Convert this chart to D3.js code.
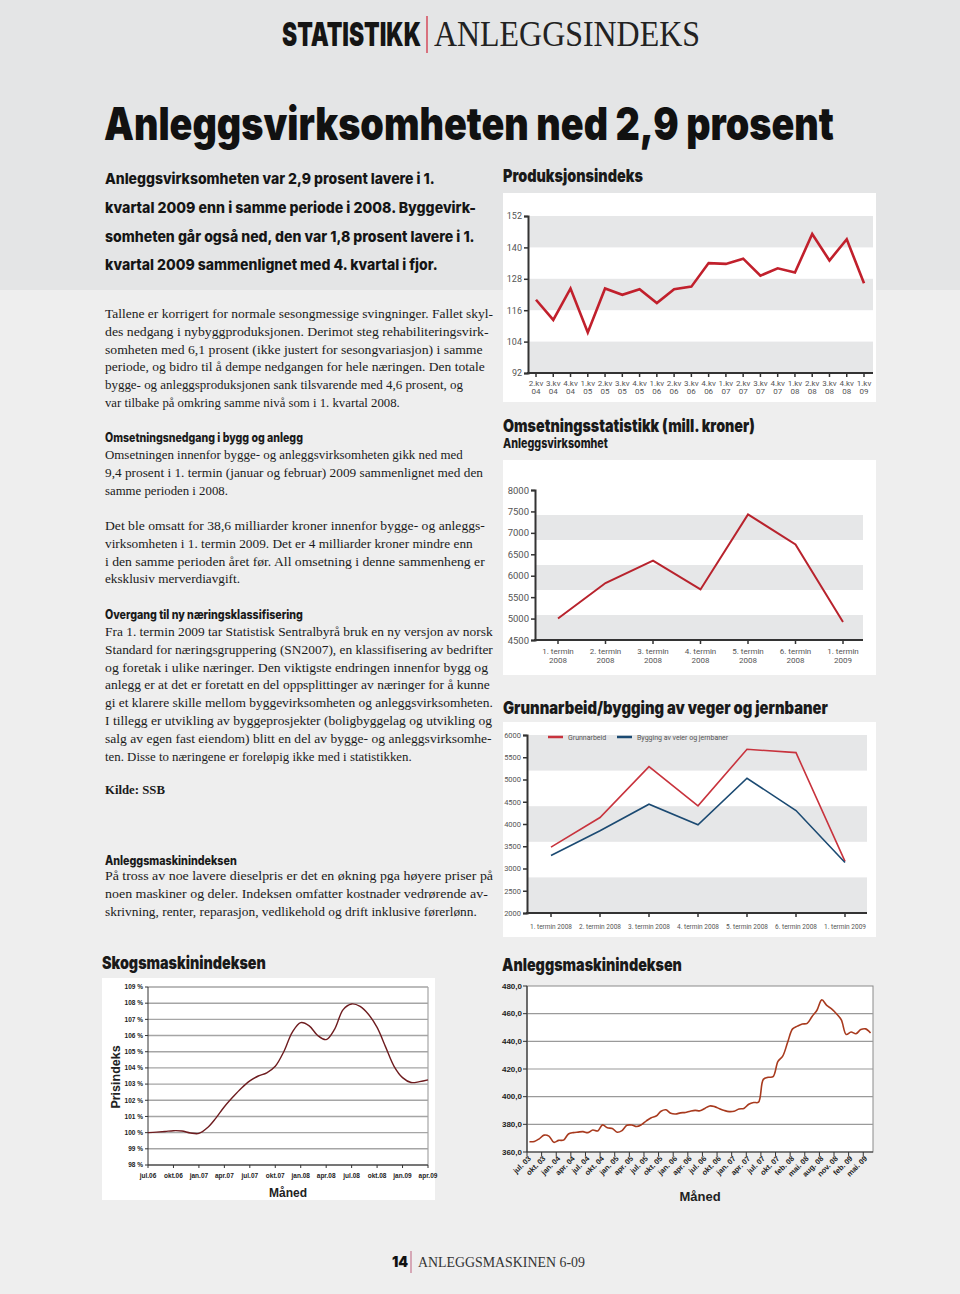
<!DOCTYPE html>
<html><head><meta charset="utf-8">
<script src="https://cdn.jsdelivr.net/npm/d3@7"></script>
<style>body{margin:0;background:#eeeeee} svg{display:block}</style>
</head><body><svg id="page" width="960" height="1294"></svg>
<script>
// ---------------- DATA ----------------
const prodQuarters = ["2.kv 04","3.kv 04","4.kv 04","1.kv 05","2.kv 05","3.kv 05","4.kv 05","1.kv 06","2.kv 06","3.kv 06","4.kv 06","1.kv 07","2.kv 07","3.kv 07","4.kv 07","1.kv 08","2.kv 08","3.kv 08","4.kv 08","1.kv 09"];
const prodValues = [120,112.3,124.3,107.5,124.3,121.9,124,118.7,124,125,134,133.7,135.7,129.2,132,130.4,145.1,135,143.1,126.3];
const prodTicks = [92,104,116,128,140,152];

const omsTerms = ["1. termin 2008","2. termin 2008","3. termin 2008","4. termin 2008","5. termin 2008","6. termin 2008","1. termin 2009"];
const omsValues = [5000,5830,6350,5680,7430,6730,4920];
const omsTicks = [4500,5000,5500,6000,6500,7000,7500,8000];

const grunnTerms = ["1. termin 2008","2. termin 2008","3. termin 2008","4. termin 2008","5. termin 2008","6. termin 2008","1. termin 2009"];
const grunnarbeid = [3480,4146,5290,4408,5679,5604,3159];
const veierJernbaner = [3293,3850,4445,3981,5028,4303,3136];
const grunnTicks = [2000,2500,3000,3500,4000,4500,5000,5500,6000];

const skogTickLabels = ["jul.06","okt.06","jan.07","apr.07","jul.07","okt.07","jan.08","apr.08","jul.08","okt.08","jan.09","apr.09"];
const skogValues = [100.0,100.03,100.07,100.12,100.1,99.98,99.95,100.3,100.9,101.6,102.2,102.75,103.2,103.5,103.7,104.1,105.0,106.2,106.8,106.6,106.0,105.75,106.4,107.6,107.95,107.8,107.3,106.5,105.3,104.1,103.4,103.1,103.15,103.26];
const skogTicks = [98,99,100,101,102,103,104,105,106,107,108,109];

const anleggTickLabels = ["jul. 03","okt. 03","jan. 04","apr. 04","jul. 04","okt. 04","jan. 05","apr. 05","jul. 05","okt. 05","jan. 06","apr. 06","jul. 06","okt. 06","jan. 07","apr. 07","jul. 07","okt. 07","feb. 08","mai. 08","aug. 08","nov. 08","feb. 09","mai. 09"];
const anleggValues = [367.4,367.6,369.5,372.2,371.5,367.0,368.4,368.6,373.0,374.0,374.4,374.7,374.0,375.9,375.2,379.6,377.5,377.0,374.3,375.5,379.3,379.5,378.4,379.8,382.5,384.8,386.0,389.5,390.5,388.0,387.5,388.3,388.6,389.5,390.1,389.8,391.5,393.3,392.8,391.3,390.0,389.2,389.5,391.1,391.5,394.5,395.8,396.0,412.5,414.0,414.5,425.5,429.5,439.5,449.0,451.0,452.5,453.0,458.0,462.5,470.0,466.0,463.5,460.0,455.5,445.0,446.8,445.5,448.5,449.0,446.0];
const anleggTicks = [360,380,400,420,440,460,480];

// ---------------- TEXT ----------------
const leadLines = [
 ["Anleggsvirksomheten var 2,9 prosent lavere i 1.",330],
 ["kvartal 2009 enn i samme periode i 2008. Byggevirk-",371],
 ["somheten går også ned, den var 1,8 prosent lavere i 1.",370],
 ["kvartal 2009 sammenlignet med 4. kvartal i fjor.",333]];
const p1 = [
 ["Tallene er korrigert for normale sesongmessige svingninger. Fallet skyl-",388],
 ["des nedgang i nybyggproduksjonen. Derimot steg rehabiliteringsvirk-",384],
 ["somheten med 6,1 prosent (ikke justert for sesongvariasjon) i samme",378],
 ["periode, og bidro til å dempe nedgangen for hele næringen. Den totale",380],
 ["bygge- og anleggsproduksjonen sank tilsvarende med 4,6 prosent, og",358],
 ["var tilbake på omkring samme nivå som i 1. kvartal 2008.",295]];
const p2 = [
 ["Omsetningen innenfor bygge- og anleggsvirksomheten gikk ned med",358],
 ["9,4 prosent i 1. termin (januar og februar) 2009 sammenlignet med den",378],
 ["samme perioden i 2008.",123]];
const p3 = [
 ["Det ble omsatt for 38,6 milliarder kroner innenfor bygge- og anleggs-",380],
 ["virksomheten i 1. termin 2009. Det er 4 milliarder kroner mindre enn",368],
 ["i den samme perioden året før. All omsetning i denne sammenheng er",380],
 ["eksklusiv merverdiavgift.",135]];
const p4 = [
 ["Fra 1. termin 2009 tar Statistisk Sentralbyrå bruk en ny versjon av norsk",388],
 ["Standard for næringsgruppering (SN2007), en klassifisering av bedrifter",388],
 ["og foretak i ulike næringer. Den viktigste endringen innenfor bygg og",383],
 ["anlegg er at det er foretatt en del oppsplittinger av næringer for å kunne",385],
 ["gi et klarere skille mellom byggevirksomheten og anleggsvirksomheten.",388],
 ["I tillegg er utvikling av byggeprosjekter (boligbyggelag og utvikling og",387],
 ["salg av egen fast eiendom) blitt en del av bygge- og anleggsvirksomhe-",387],
 ["ten. Disse to næringene er foreløpig ikke med i statistikken.",307]];
const p5 = [
 ["På tross av noe lavere dieselpris er det en økning pga høyere priser på",388],
 ["noen maskiner og deler. Indeksen omfatter kostnader vedrørende av-",383],
 ["skrivning, renter, reparasjon, vedlikehold og drift inklusive førerlønn.",372]];

// ---------------- DRAW ----------------
const SERIF = "'Liberation Serif','Times New Roman',serif";
const HEAVY = "Inter,Roboto,'DejaVu Sans',sans-serif";
const SANS = "Roboto,'Open Sans','DejaVu Sans',sans-serif";
const ARIAL = "'Liberation Sans',Arial,sans-serif";
const svg = d3.select("#page");
svg.append("rect").attr("width",960).attr("height",1294).attr("fill","#eeeeee");
svg.append("rect").attr("width",960).attr("height",290).attr("fill","#e4e5e6");

// text helper: if width given, the glyphs are scaled horizontally to fit it
function txt(g, x, y, s, o={}) {
  const t = g.append("text").attr("x",x).attr("y",y).text(s)
    .attr("font-family", o.family||SERIF).attr("font-size", o.size||12.5)
    .attr("font-weight", o.weight||"normal").attr("fill", o.fill||"#1a1a1a");
  if (o.anchor) t.attr("text-anchor", o.anchor);
  if (o.width) {
    const w0 = t.node().getComputedTextLength();
    if (w0 > 0) {
      const sx = o.width / w0;
      t.attr("transform", `translate(${x},${y}) scale(${sx},1) translate(${-x},${-y})`);
    }
  }
  return t;
}
function para(lines, y0, dy) {
  lines.forEach((l,i)=> txt(svg,105,y0+i*dy,l[0],{size:12.6,width:l[1]}));
}

// header
txt(svg,282,45.7,"STATISTIKK",{family:HEAVY,weight:900,size:33,width:139,fill:"#151515"});
svg.append("line").attr("x1",427).attr("x2",427).attr("y1",16).attr("y2",53).attr("stroke","#d0243a").attr("stroke-width",1.2);
txt(svg,434,45.7,"ANLEGGSINDEKS",{size:36,width:266,fill:"#222"});
txt(svg,104,140,"Anleggsvirksomheten ned 2,9 prosent",{family:HEAVY,weight:900,size:45,width:730,fill:"#111"});

leadLines.forEach((l,i)=> txt(svg,105,[184,213,242,270][i],l[0],{family:HEAVY,weight:800,size:15,width:l[1],fill:"#151515"}));
para(p1,318,17.8);
txt(svg,105,441.7,"Omsetningsnedgang i bygg og anlegg",{family:HEAVY,weight:800,size:12.5,width:198});
para(p2,459,18);
para(p3,530,17.8);
txt(svg,105,619,"Overgang til ny næringsklassifisering",{family:HEAVY,weight:800,size:12.5,width:198});
para(p4,636,17.8);
txt(svg,105,794,"Kilde: SSB",{weight:"bold",size:13.5,width:60});
txt(svg,105,865,"Anleggsmaskinindeksen",{family:HEAVY,weight:800,size:12.5,width:132});
para(p5,880,18);

// chart titles
txt(svg,503,181.7,"Produksjonsindeks",{family:HEAVY,weight:900,size:18,width:140});
txt(svg,503,431.7,"Omsetningsstatistikk (mill. kroner)",{family:HEAVY,weight:900,size:18,width:252});
txt(svg,503,448.3,"Anleggsvirksomhet",{family:HEAVY,weight:800,size:13.5,width:105});
txt(svg,503,714,"Grunnarbeid/bygging av veger og jernbaner",{family:HEAVY,weight:900,size:17,width:325});
txt(svg,102,969.3,"Skogsmaskinindeksen",{family:HEAVY,weight:900,size:17.5,width:164});
txt(svg,502,970.7,"Anleggsmaskinindeksen",{family:HEAVY,weight:900,size:18,width:180});

// footer
txt(svg,392,1267,"14",{family:HEAVY,weight:900,size:14,fill:"#111"});
svg.append("line").attr("x1",411).attr("x2",411).attr("y1",1251).attr("y2",1273).attr("stroke","#c77a92").attr("stroke-width",1.2);
txt(svg,418,1267,"ANLEGGSMASKINEN 6-09",{size:14,width:167,fill:"#333"});

// ---------- generic banded line chart ----------
function bandChart(cfg){
  const g = svg.append("g");
  g.append("rect").attr("x",cfg.panel[0]).attr("y",cfg.panel[1]).attr("width",cfg.panel[2]).attr("height",cfg.panel[3]).attr("fill","#fff");
  const y = d3.scaleLinear().domain(cfg.ydom).range(cfg.yr);
  const x = d3.scalePoint().domain(cfg.cats).range(cfg.xr);
  cfg.bands.forEach(b=>{
    g.append("rect").attr("x",cfg.ax).attr("width",cfg.bandRight-cfg.ax)
     .attr("y",y(b[1])).attr("height",y(b[0])-y(b[1])).attr("fill","#e6e7e8");
  });
  const ya = d3.axisLeft(y).tickValues(cfg.yticks).tickFormat(d3.format("d")).tickSize(4).tickPadding(cfg.ypad||2);
  const yg = g.append("g").attr("transform",`translate(${cfg.ax},0)`).call(ya);
  yg.select(".domain").attr("stroke","#333").attr("stroke-width",2);
  yg.selectAll(".tick line").attr("stroke","#333").attr("stroke-width",1.5);
  yg.selectAll("text").attr("font-family",SANS).attr("font-size",cfg.yfs).attr("fill","#555");
  g.append("line").attr("x1",cfg.ax-1).attr("x2",cfg.bandRight).attr("y1",cfg.yr[0]).attr("y2",cfg.yr[0]).attr("stroke","#333").attr("stroke-width",2);
  cfg.cats.forEach(c=>{
    g.append("line").attr("x1",x(c)).attr("x2",x(c)).attr("y1",cfg.yr[0]).attr("y2",cfg.yr[0]+4).attr("stroke","#333").attr("stroke-width",1.5);
    const lines = cfg.splitLabel(c);
    lines.forEach((s,i)=> {
      const o = {family:SANS,size:cfg.xfs,fill:"#555",anchor:"middle"};
      if (cfg.labelW) o.width = cfg.labelW;
      txt(g,x(c),cfg.labelY+i*cfg.labelDy,s,o);
    });
  });
  cfg.series.forEach(s=>{
    g.append("path").datum(s.values).attr("fill","none").attr("stroke",s.color).attr("stroke-width",s.width)
     .attr("stroke-linejoin","miter")
     .attr("d",d3.line().x((d,i)=>x(cfg.cats[i])).y(d=>y(d)));
  });
  return {g,x,y};
}

// Produksjonsindeks
bandChart({panel:[503,193,373,209], ydom:[92,152], yr:[373,216], cats:prodQuarters, xr:[536,864], ax:528, bandRight:873,
  bands:[[140,152],[116,128],[92,104]], yticks:prodTicks, yfs:9, xfs:8,
  splitLabel:c=>c.split(" "), labelY:385.5, labelDy:8,
  series:[{values:prodValues,color:"#c1202c",width:2.6}]});

// Omsetning
bandChart({panel:[503,460,373,215], ydom:[4500,8000], yr:[640,490], cats:omsTerms, xr:[558,843], ax:535, bandRight:863,
  bands:[[4500,4500+3500/6],[4500+2*3500/6,4500+3*3500/6],[4500+4*3500/6,4500+5*3500/6]], yticks:omsTicks, yfs:9.5, xfs:8,
  splitLabel:c=>{const p=c.split(" "); return [p[0]+" "+p[1], p[2]];}, labelY:654, labelDy:9,
  series:[{values:omsValues,color:"#b8232d",width:2}]});

// Grunnarbeid
const gr = bandChart({panel:[503,722,373,215], ydom:[2000,6000], yr:[913,735], cats:grunnTerms, xr:[551,845], ax:527, bandRight:867,
  bands:[[2000,2800],[3600,4400],[5200,6000]], yticks:grunnTicks, yfs:7.5, xfs:7.5, labelW:42,
  splitLabel:c=>[c], labelY:929.5, labelDy:0,
  series:[{values:grunnarbeid,color:"#c8333d",width:1.6},{values:veierJernbaner,color:"#1b4a72",width:1.6}]});
gr.g.append("line").attr("x1",548).attr("x2",563).attr("y1",737).attr("y2",737).attr("stroke","#c8333d").attr("stroke-width",2.5);
txt(gr.g,568,739.5,"Grunnarbeid",{family:SANS,size:7,fill:"#555"});
gr.g.append("line").attr("x1",617).attr("x2",632).attr("y1",737).attr("y2",737).attr("stroke","#1b4a72").attr("stroke-width",2.5);
txt(gr.g,637,739.5,"Bygging av veier og jernbaner",{family:SANS,size:7,fill:"#555"});

// Skogsmaskinindeksen
(function(){
  const g = svg.append("g");
  g.append("rect").attr("x",102).attr("y",978).attr("width",333).attr("height",222).attr("fill","#fff");
  const x = d3.scaleLinear().domain([0,skogValues.length-1]).range([148,428]);
  const y = d3.scaleLinear().domain([98,109]).range([1165,987]);
  skogTicks.forEach(t=>{
    g.append("line").attr("x1",148).attr("x2",428).attr("y1",y(t)).attr("y2",y(t)).attr("stroke","#a5a5a5").attr("stroke-width",1.4);
    g.append("line").attr("x1",145).attr("x2",148).attr("y1",y(t)).attr("y2",y(t)).attr("stroke","#333");
    txt(g,143,y(t)+2.3,t+" %",{family:ARIAL,weight:"bold",size:6.5,anchor:"end",fill:"#222"});
  });
  g.append("line").attr("x1",428).attr("x2",428).attr("y1",987).attr("y2",1165).attr("stroke","#a5a5a5").attr("stroke-width",1.2);
  g.append("line").attr("x1",148).attr("x2",148).attr("y1",987).attr("y2",1165).attr("stroke","#333").attr("stroke-width",1);
  g.append("line").attr("x1",148).attr("x2",428).attr("y1",1165).attr("y2",1165).attr("stroke","#333").attr("stroke-width",1);
  skogTickLabels.forEach((s,k)=>{
    const xx = x(k*3);
    g.append("line").attr("x1",xx).attr("x2",xx).attr("y1",1165).attr("y2",1168).attr("stroke","#333");
    txt(g,xx,1178,s,{family:ARIAL,weight:"bold",size:6.5,anchor:"middle",fill:"#222"});
  });
  g.append("path").datum(skogValues).attr("fill","none").attr("stroke","#6e1c1f").attr("stroke-width",1.4)
    .attr("d",d3.line().x((d,i)=>x(i)).y(d=>y(d)).curve(d3.curveCatmullRom.alpha(0.5)));
  txt(g,0,0,"Prisindeks",{family:ARIAL,weight:"bold",size:12.5,anchor:"middle",fill:"#222"}).attr("transform","translate(120,1077) rotate(-90)");
  txt(g,288,1196.5,"Måned",{family:ARIAL,weight:"bold",size:12,anchor:"middle",fill:"#222"});
})();

// Anleggsmaskinindeksen
(function(){
  const g = svg.append("g");
  const x = d3.scaleLinear().domain([-0.5,anleggValues.length-0.5]).range([527,873]);
  const y = d3.scaleLinear().domain([360,480]).range([1152,986]);
  g.append("rect").attr("x",527).attr("y",986).attr("width",346).attr("height",166).attr("fill","#fff").attr("stroke","#8a8a8a").attr("stroke-width",1);
  anleggTicks.forEach(t=>{
    if(t>360 && t<480) g.append("line").attr("x1",527).attr("x2",873).attr("y1",y(t)).attr("y2",y(t)).attr("stroke","#9a9a9a").attr("stroke-width",1.2);
    g.append("line").attr("x1",523).attr("x2",527).attr("y1",y(t)).attr("y2",y(t)).attr("stroke","#333");
    txt(g,522,y(t)+2.8,d3.format(".1f")(t).replace(".",","),{family:ARIAL,weight:"bold",size:8,anchor:"end",fill:"#222"});
  });
  g.append("line").attr("x1",527).attr("x2",527).attr("y1",986).attr("y2",1152).attr("stroke","#333").attr("stroke-width",1.2);
  g.append("line").attr("x1",527).attr("x2",873).attr("y1",1152).attr("y2",1152).attr("stroke","#333").attr("stroke-width",1.2);
  for(let i=0;i<=anleggValues.length;i+=3){
    g.append("line").attr("x1",x(i-0.5)).attr("x2",x(i-0.5)).attr("y1",1152).attr("y2",1156).attr("stroke","#333");
  }
  anleggTickLabels.forEach((s,k)=>{
    const xx = x(k*3)+2;
    txt(g,0,0,s,{family:ARIAL,weight:"bold",size:7.5,anchor:"end",fill:"#222"}).attr("transform",`translate(${xx},1159) rotate(-45)`);
  });
  g.append("path").datum(anleggValues).attr("fill","none").attr("stroke","#a83a1e").attr("stroke-width",1.6)
    .attr("d",d3.line().x((d,i)=>x(i)).y(d=>y(d)).curve(d3.curveCatmullRom.alpha(0.5)));
  txt(g,700,1200.5,"Måned",{family:ARIAL,weight:"bold",size:13,anchor:"middle",fill:"#222"});
})();
</script></body></html>
